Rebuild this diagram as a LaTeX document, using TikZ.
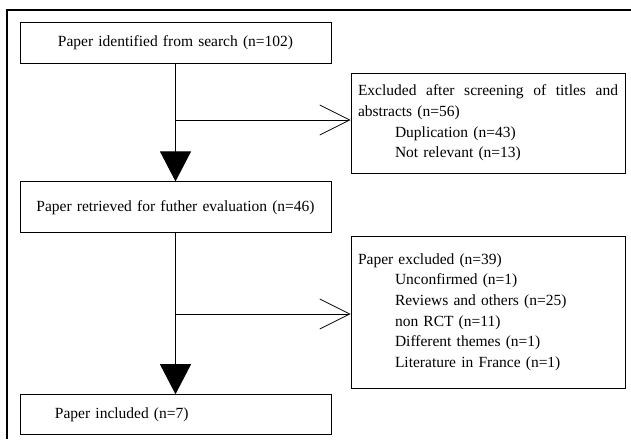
\documentclass[tikz,border=0pt]{standalone}
\usepackage{fontspec}
\setmainfont{Liberation Serif}
\usetikzlibrary{arrows.meta,positioning}
\newcommand\flowfont{\fontsize{15.5}{20.6}\selectfont\spaceskip=0.5em plus 0.2em minus 0.1em\relax}
\tikzstyle{Box} = [draw, rectangle, line width=0.8pt, minimum width=311pt, text width=297pt, inner xsep=7pt, inner ysep=2pt, font=\flowfont]
\tikzstyle{Excl} = [draw, rectangle, line width=0.8pt, minimum width=274pt, text width=260pt, inner xsep=7pt, align=left, font=\flowfont]
\tikzstyle{Down} = [-{Triangle[width=31pt,length=30pt]}, line width=0.8pt]
\tikzstyle{Side} = [-{Straight Barb[width=30pt,length=30pt]}, line width=0.8pt]

\begin{document}
\begin{tikzpicture}[x=1pt, y=-1pt]
    \useasboundingbox (0,0) rectangle (631,439);
    \draw[line width=1.2pt] (7,439) -- (7,10) -- (631,10);
    \node[Box, align=center, minimum height=41pt] (search) at (175.5,42.5) {Paper identified from search (n=102)};
    \node[Box, align=center, minimum height=51pt] (retrieved) [below=118pt of search] {Paper retrieved for futher evaluation (n=46)};
    \node[Box, align=left, minimum height=40pt] (included) [below=161pt of retrieved] {\hspace*{28pt}Paper included (n=7)};
    \node[Excl, minimum height=100pt] (excluded1) at (488,123) {\hbox to 260pt{Excluded\hfill after\hfill screening\hfill of\hfill titles\hfill and}\\
        abstracts (n=56)\\
        \hspace*{37pt}Duplication (n=43)\\
        \hspace*{37pt}Not relevant (n=13)};
    \node[Excl, minimum height=152pt] (excluded2) at (488,312) {Paper excluded (n=39)\\
        \hspace*{37pt}Unconfirmed (n=1)\\
        \hspace*{37pt}Reviews and others (n=25)\\
        \hspace*{37pt}non RCT (n=11)\\
        \hspace*{37pt}Different themes (n=1)\\
        \hspace*{37pt}Literature in France (n=1)};
    \coordinate (fork1) at ([yshift=3pt]search.south |- excluded1.west);
    \coordinate (fork2) at ([yshift=-2pt]retrieved.south |- excluded2.west);
    \draw[Down] (search) to (retrieved);
    \draw[Down] (retrieved) to (included);
    \draw[Side] (fork1) to (fork1 -| excluded1.west);
    \draw[Side] (fork2) to (fork2 -| excluded2.west);
  \end{tikzpicture}
\end{document}
